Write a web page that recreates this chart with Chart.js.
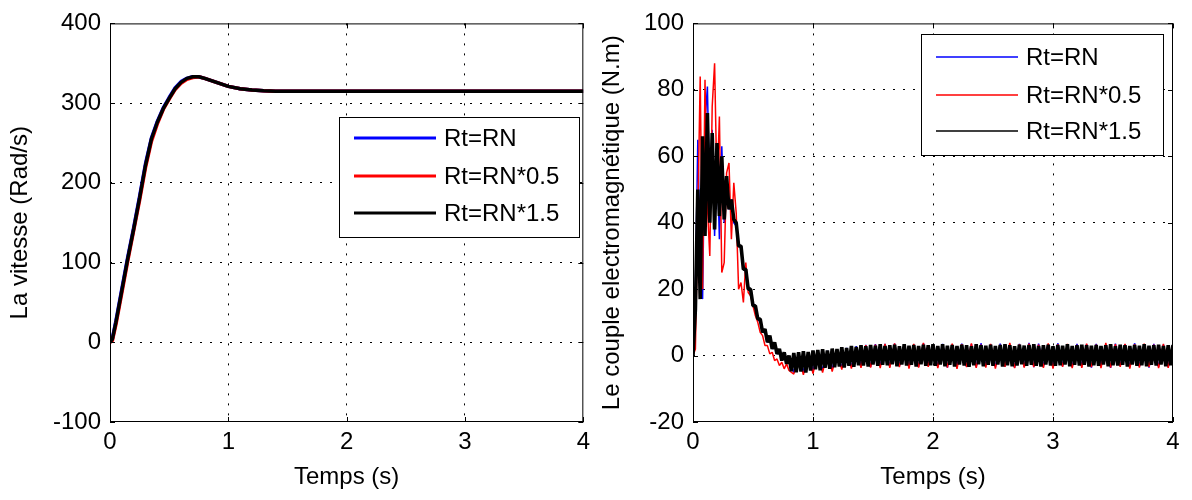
<!DOCTYPE html>
<html>
<head>
<meta charset="utf-8">
<script src="https://cdn.jsdelivr.net/npm/chart.js@4.4.1/dist/chart.umd.min.js"></script>
<style>
  html, body { margin: 0; padding: 0; background: #fff; }
  #wrap { position: relative; width: 1192px; height: 500px; }
  canvas { position: absolute; top: 0; }
  #speedChart { left: 0; }
  #torqueChart { left: 596px; }
</style>
</head>
<body>
<div id="wrap">
  <canvas id="speedChart" width="596" height="500"></canvas>
  <canvas id="torqueChart" width="596" height="500"></canvas>
</div>
<script>
const SERIES_LABELS = ['Rt=RN', 'Rt=RN*0.5', 'Rt=RN*1.5'];
const SERIES_COLORS = ['#0000ff', '#ff0000', '#000000'];

// vitesse (rad/s)
const tSpeed = [0, 0.02, 0.05, 0.1, 0.15, 0.2, 0.25, 0.3, 0.35, 0.4, 0.45, 0.5, 0.55, 0.6, 0.65, 0.7, 0.75, 0.8, 0.9, 1.0, 1.1, 1.2, 1.3, 1.4, 1.6, 2, 3, 4];
const speedRN   = [0, 5, 27, 67, 107, 144, 183, 224, 256, 277, 294, 307, 319, 327, 331, 333, 333, 331, 326, 321, 318, 316.5, 315.5, 315, 315, 315, 315, 315];
const speedRN05 = [0, 2, 22, 62, 102, 140, 178, 219, 252, 274, 292, 305, 317, 325, 330, 332, 333, 331, 326, 321, 318, 316.5, 315.5, 315, 315, 315, 315, 315];
const speedRN15 = [0, 4, 25, 65, 105, 142, 181, 222, 255, 276, 293, 306, 318, 326, 331, 333, 333, 331, 326, 321, 318, 316.5, 315.5, 315, 315, 315, 315, 315];

// couple (N.m) : regime transitoire, pas de 0.02 s de 0 a 0.8 s
const FAST_DT = 0.02;
const torqueFastRN   = [0, 20, 65, 30, 17, 70, 81, 45, 68, 36, 62, 35, 63, 40, 50, 44, 47, 40, 39, 34, 32,
                        27, 25, 21, 19, 16, 14, 11, 10, 7, 7, 4, 5, 2, 3, 0.5, 1, -1.5, 0.5, -2.5, -0.5];
const torqueFastRN05 = [0, 2, 42, 84, 20, 83, 45, 30, 75, 88, 50, 72, 25, 28, 55, 58, 35, 52, 43, 20, 22,
                        16, 28, 19, 18, 15, 12, 10, 7, 6, 3, 3, 0.5, 1, -1.5, -1, -3, -2, -4, -2.5, -4.5];
const torqueFastRN15 = [0, 14, 50, 17, 66, 36, 73, 40, 67, 38, 64, 42, 60, 41, 54, 44, 47, 41, 40, 33, 33,
                        26, 26, 20, 20, 15, 15, 11, 11, 7, 8, 4, 6, 2, 4, 0.5, 2, -1.5, 1, -2.5, 0];

// regime permanent : RN et RN*0.5 a partir de 0.84 s (pas 0.04 s), RN*1.5 a partir de 0.82 s (pas 0.02 s)
const torqueSlowRN = [
  -5.1, 0.4, -4.9, 0.8, -4.6, 1.1, -4.4, 1.4, -4.1, 1.7,
  -3.7, 2.3, -3.5, 2.8, -3.3, 3.2, -3.4, 3.4, -3.2, 3.5,
  -3.3, 3.6, -3.2, 3.4, -3.5, 3.3, -3.4, 3.7, -3.1, 3.4,
  -3.4, 3.5, -3.6, 3.3, -3.2, 3.6, -3.4, 3.4, -3.5, 3.7,
  -3.2, 3.4, -3.5, 3.6, -3.3, 3.3, -3.6, 3.5, -3.4, 3.8,
  -3.5, 3.6, -3.3, 3.4, -3.6, 3.7, -3.2, 3.3, -3.5, 3.5,
  -3.3, 3.4, -3.6, 3.5, -3.4, 3.3, -3.7, 3.6, -3.2, 3.4,
  -3.5, 3.7, -3.3, 3.4, -3.6, 3.5, -3.4, 3.3, -3.5, 3.6
];
const torqueSlowRN05 = [
  -5.6, -0.2, -5.8, 0.4, -5.4, 0.6, -5.1, 1.0, -4.8, 1.3,
  -4.2, 2.0, -3.9, 2.5, -3.7, 3.1, -3.6, 3.3, -3.8, 3.5,
  -3.7, 3.7, -3.5, 3.3, -3.9, 3.5, -3.6, 3.8, -3.4, 3.4,
  -3.8, 3.2, -3.6, 3.6, -4.0, 3.4, -3.5, 3.7, -3.7, 3.3,
  -3.6, 3.5, -3.9, 3.2, -3.4, 3.8, -3.8, 3.4, -3.6, 3.6,
  -3.5, 3.3, -3.7, 3.7, -3.9, 3.4, -3.4, 3.5, -3.8, 3.2,
  -3.7, 3.6, -3.5, 3.3, -3.8, 3.8, -3.6, 3.4, -3.4, 3.5,
  -3.9, 3.4, -3.6, 3.6, -3.5, 3.3, -3.8, 3.5, -3.7, 3.4
];
const torqueSlowRN15 = [
  -4.7, 0.8, -5.0, 1.0, -4.8, 1.3, -5.1, 1.1, -4.5, 1.5,
  -4.1, 1.7, -4.4, 1.9, -3.7, 1.5, -4.0, 2.1, -3.5, 2.0,
  -3.3, 2.5, -3.6, 2.3, -3.1, 2.9, -3.4, 2.6, -2.9, 3.1,
  -3.0, 2.8, -3.3, 3.2, -2.7, 3.0, -3.1, 3.4, -2.8, 2.9,
  -2.9, 3.1, -2.6, 3.3, -3.2, 2.8, -2.7, 3.4, -3.0, 3.0,
  -2.8, 3.2, -3.3, 2.9, -2.6, 3.3, -3.1, 3.1, -2.9, 3.4,
  -3.1, 2.9, -2.7, 3.4, -3.2, 3.0, -2.8, 3.2, -3.3, 2.9,
  -2.7, 3.3, -3.0, 3.1, -3.4, 2.8, -2.9, 3.4, -2.6, 3.1,
  -3.2, 3.0, -2.8, 3.3, -3.1, 2.9, -2.7, 3.2, -3.3, 3.4,
  -2.9, 3.1, -3.2, 2.8, -3.0, 3.3, -2.6, 3.0, -3.1, 3.2,
  -2.8, 3.4, -3.1, 2.9, -3.3, 3.1, -2.7, 3.3, -3.0, 2.8,
  -3.1, 3.2, -2.9, 3.0, -2.7, 3.4, -3.2, 2.9, -2.8, 3.1,
  -3.0, 3.3, -2.8, 3.1, -3.3, 3.0, -2.9, 3.2, -3.1, 2.9,
  -2.7, 3.1, -3.2, 3.4, -2.9, 2.8, -3.0, 3.3, -2.8, 3.1,
  -3.3, 2.9, -2.7, 3.2, -3.1, 3.0, -2.9, 3.4, -3.2, 3.0,
  -2.8, 3.1, -3.0, 3.3, -2.7, 2.9, -3.2, 3.1, -2.9, 3.2
];

const FONT = '"Liberation Sans", Arial, Helvetica, sans-serif';
Chart.defaults.font.family = FONT;
Chart.defaults.color = '#000';

function torquePoints(fast, slow, slowStart, slowDt) {
    const pts = fast.map((v, i) => ({ x: +(i * FAST_DT).toFixed(3), y: v }));
    slow.forEach((v, i) => pts.push({ x: +(slowStart + i * slowDt).toFixed(3), y: v }));
    return pts;
}

// cadre complet + graduations interieures + legende facon MATLAB
const matlabFrame = {
    id: 'matlabFrame',
    afterDraw(chart, args, opts) {
        const ctx = chart.ctx;
        const a = chart.chartArea;
        const xs = chart.scales.x, ys = chart.scales.y;
        ctx.save();
        ctx.strokeStyle = '#000';
        ctx.lineWidth = 1;
        ctx.strokeRect(a.left + 0.5, a.top + 0.5, a.right - a.left - 1, a.bottom - a.top - 1);
        ctx.beginPath();
        xs.ticks.forEach(t => {
            const px = Math.round(xs.getPixelForValue(t.value)) + 0.5;
            ctx.moveTo(px, a.bottom); ctx.lineTo(px, a.bottom - 5);
            ctx.moveTo(px, a.top); ctx.lineTo(px, a.top + 5);
        });
        ys.ticks.forEach(t => {
            const py = Math.round(ys.getPixelForValue(t.value)) + 0.5;
            ctx.moveTo(a.left, py); ctx.lineTo(a.left + 5, py);
            ctx.moveTo(a.right, py); ctx.lineTo(a.right - 5, py);
        });
        ctx.stroke();

        // legende
        const L = opts.box;
        ctx.fillStyle = '#fff';
        ctx.fillRect(L.x, L.y, L.w, L.h);
        ctx.strokeRect(L.x + 0.5, L.y + 0.5, L.w, L.h);
        ctx.font = '24px ' + FONT;
        ctx.textBaseline = 'middle';
        SERIES_LABELS.forEach((label, i) => {
            const ry = L.y + L.rows[i];
            ctx.strokeStyle = SERIES_COLORS[i];
            ctx.lineWidth = opts.lineWidth;
            ctx.beginPath();
            ctx.moveTo(L.x + 15, ry); ctx.lineTo(L.x + 97, ry);
            ctx.stroke();
            ctx.fillStyle = '#000';
            ctx.fillText(label, L.x + 105, ry + 1);
        });
        ctx.restore();
    }
};

function makeScales(yMin, yMax, yStep, yTitle, yWidth, yTitlePad) {
    const gridColor = (min, max) => c => (c.tick && (c.tick.value === min || c.tick.value === max)) ? 'rgba(0,0,0,0)' : '#000';
    return {
        x: {
            type: 'linear', min: 0, max: 4,
            ticks: { stepSize: 1, font: { size: 24 }, padding: 6, maxRotation: 0 },
            grid: { color: gridColor(0, 4), drawTicks: false, lineWidth: 1 },
            border: { display: false, dash: [2, 8] },
            title: { display: true, text: 'Temps (s)', font: { size: 24 }, padding: { top: 2, bottom: 8 } },
            afterFit: s => { s.height = 78; }
        },
        y: {
            min: yMin, max: yMax,
            ticks: { stepSize: yStep, font: { size: 24 }, padding: 9 },
            grid: { color: gridColor(yMin, yMax), drawTicks: false, lineWidth: 1 },
            border: { display: false, dash: [2, 8] },
            title: { display: true, text: yTitle, font: { size: 24 }, padding: { top: yTitlePad, bottom: 4 } },
            afterFit: s => { s.width = yWidth; }
        }
    };
}

function ds(i, data, width, order) {
    return {
        label: SERIES_LABELS[i], data: data,
        borderColor: SERIES_COLORS[i], backgroundColor: SERIES_COLORS[i],
        borderWidth: width, borderJoinStyle: 'bevel',
        pointRadius: 0, tension: 0, order: order
    };
}

new Chart(document.getElementById('speedChart'), {
    type: 'line',
    data: {
        datasets: [
            ds(0, tSpeed.map((t, i) => ({ x: t, y: speedRN[i] })), 3.5, 2),
            ds(1, tSpeed.map((t, i) => ({ x: t, y: speedRN05[i] })), 3.5, 1),
            ds(2, tSpeed.map((t, i) => ({ x: t, y: speedRN15[i] })), 3.5, 0)
        ]
    },
    options: {
        responsive: false, animation: false,
        layout: { padding: { left: 0, right: 12, top: 21, bottom: 0 } },
        scales: makeScales(-100, 400, 100, 'La vitesse (Rad/s)', 110, 6),
        plugins: {
            legend: { display: false }, tooltip: { enabled: false },
            matlabFrame: { lineWidth: 3, box: { x: 339, y: 117, w: 240, h: 120, rows: [21, 59, 96] } }
        }
    },
    plugins: [matlabFrame]
});

new Chart(document.getElementById('torqueChart'), {
    type: 'line',
    data: {
        datasets: [
            ds(0, torquePoints(torqueFastRN, torqueSlowRN, 0.84, 0.04), 1.5, 2),
            ds(1, torquePoints(torqueFastRN05, torqueSlowRN05, 0.84, 0.04), 1.5, 1),
            ds(2, torquePoints(torqueFastRN15, torqueSlowRN15, 0.82, 0.02), 3.6, 0)
        ]
    },
    options: {
        responsive: false, animation: false,
        layout: { padding: { left: 0, right: 19, top: 21, bottom: 0 } },
        scales: makeScales(-20, 100, 20, 'Le couple electromagnétique (N.m)', 97, 2),
        plugins: {
            legend: { display: false }, tooltip: { enabled: false },
            matlabFrame: { lineWidth: 1.5, box: { x: 325, y: 34, w: 242, h: 121, rows: [23, 61, 97] } }
        }
    },
    plugins: [matlabFrame]
});
</script>
</body>
</html>
